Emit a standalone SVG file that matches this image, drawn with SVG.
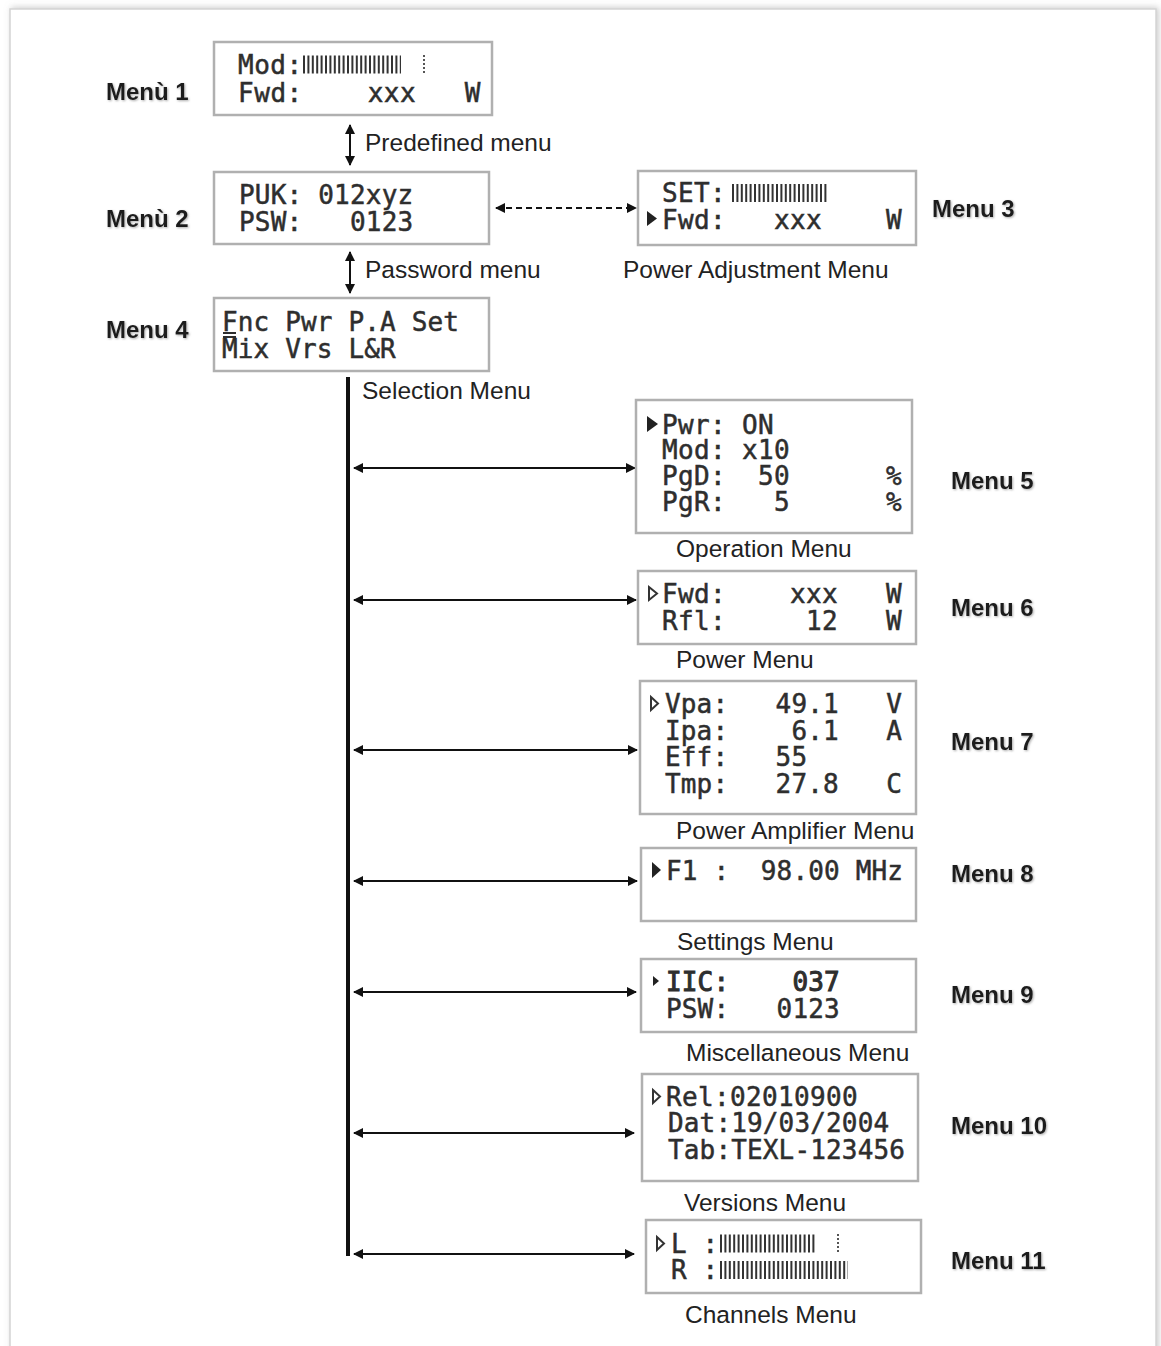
<svg xmlns="http://www.w3.org/2000/svg" width="1161" height="1346" viewBox="0 0 1161 1346">
<style>
.lcd{font-family:"DejaVu Sans Mono",monospace;font-size:26px;fill:#2e2e2e;stroke:#2e2e2e;stroke-width:0.5px;white-space:pre}
.cap{font-family:"Liberation Sans",Arial,sans-serif;font-size:24.5px;fill:#222}
.lbl{font-family:"Liberation Sans",Arial,sans-serif;font-size:24px;font-weight:bold;fill:#1a1a1a}
.box{fill:#fff;stroke:#b0b0b0;stroke-width:2.5}
.bar{stroke:#333;stroke-dasharray:2 2.4}
.dot{stroke:#555;stroke-width:2;stroke-dasharray:2 2}
.cur{fill:#222}
.curo{fill:none;stroke:#333;stroke-width:2;stroke-linejoin:miter}
.conn{stroke:#111;stroke-width:2;fill:none}
</style>
<defs>
<marker id="ah" viewBox="0 0 10 10" refX="9" refY="5" markerWidth="10" markerHeight="10" markerUnits="userSpaceOnUse" orient="auto-start-reverse">
<path d="M0,0 L10,5 L0,10 z" fill="#111"/>
</marker>
<filter id="sh" x="-10%" y="-10%" width="130%" height="140%">
<feDropShadow dx="1" dy="1" stdDeviation="1.2" flood-color="#777" flood-opacity="0.6"/>
</filter>
<filter id="fs" x="-2%" y="-2%" width="104%" height="104%">
<feDropShadow dx="2" dy="-1" stdDeviation="3" flood-color="#999" flood-opacity="0.5"/>
</filter>
</defs>
<rect width="1161" height="1346" fill="#fff"/>
<rect x="10" y="9" width="1146" height="1345" fill="#fff" stroke="#d4d4d4" stroke-width="1.5" filter="url(#fs)"/>

<g id="connectors">
<line class="conn" x1="350" y1="125" x2="350" y2="165" marker-start="url(#ah)" marker-end="url(#ah)"/>
<line class="conn" x1="350" y1="252" x2="350" y2="293" marker-start="url(#ah)" marker-end="url(#ah)"/>
<line class="conn" x1="496" y1="208" x2="636" y2="208" stroke-dasharray="6 4" marker-start="url(#ah)" marker-end="url(#ah)"/>
<line x1="348" y1="377" x2="348" y2="1256" stroke="#111" stroke-width="4"/>
<line class="conn" x1="354" y1="468" x2="635" y2="468" marker-start="url(#ah)" marker-end="url(#ah)"/>
<line class="conn" x1="354" y1="600" x2="636" y2="600" marker-start="url(#ah)" marker-end="url(#ah)"/>
<line class="conn" x1="354" y1="750" x2="637" y2="750" marker-start="url(#ah)" marker-end="url(#ah)"/>
<line class="conn" x1="354" y1="881" x2="637" y2="881" marker-start="url(#ah)" marker-end="url(#ah)"/>
<line class="conn" x1="354" y1="992" x2="636" y2="992" marker-start="url(#ah)" marker-end="url(#ah)"/>
<line class="conn" x1="354" y1="1133" x2="634" y2="1133" marker-start="url(#ah)" marker-end="url(#ah)"/>
<line class="conn" x1="354" y1="1254" x2="634" y2="1254" marker-start="url(#ah)" marker-end="url(#ah)"/>
<text class="cap" x="365" y="151">Predefined menu</text>
<text class="cap" x="365" y="278">Password menu</text>
<text class="cap" x="362" y="399">Selection Menu</text>
</g>

<g id="menu1">
<rect class="box" x="214" y="42" width="278" height="73"/>
<text class="lcd" x="238" y="74" style="letter-spacing:0.5px">Mod:</text>
<line class="bar" x1="303" y1="64.5" x2="401" y2="64.5" stroke-width="18"/>
<line class="dot" x1="424" y1="55" x2="424" y2="74"/>
<text class="lcd" x="238" y="102" xml:space="preserve" style="letter-spacing:0.55px">Fwd:    xxx   W</text>
<text class="lbl" x="106" y="100" filter="url(#sh)">Menù 1</text>
</g>

<g id="menu2">
<rect class="box" x="214" y="172" width="275" height="72"/>
<text class="lcd" x="239" y="204" xml:space="preserve" style="letter-spacing:0.2px">PUK: 012xyz</text>
<text class="lcd" x="239" y="231" xml:space="preserve" style="letter-spacing:0.2px">PSW:   0123</text>
<text class="lbl" x="106" y="227" filter="url(#sh)">Menù 2</text>
</g>

<g id="menu3">
<rect class="box" x="638" y="171" width="278" height="74"/>
<text class="lcd" x="662" y="202" style="letter-spacing:0.35px">SET:</text>
<line class="bar" x1="732" y1="193" x2="827" y2="193" stroke-width="18"/>
<polygon class="cur" points="647,211 657,218.5 647,226"/>
<text class="lcd" x="662" y="229" xml:space="preserve" style="letter-spacing:0.35px">Fwd:   xxx    W</text>
<text class="lbl" x="932" y="217" filter="url(#sh)">Menu 3</text>
<text class="cap" x="623" y="278">Power Adjustment Menu</text>
</g>

<g id="menu4">
<rect class="box" x="214" y="298" width="275" height="73"/>
<text class="lcd" x="222" y="331" xml:space="preserve" style="letter-spacing:0.15px">Fnc Pwr P.A Set</text>
<text class="lcd" x="222" y="358" xml:space="preserve" style="letter-spacing:0.15px">Mix Vrs L&amp;R</text>
<line x1="223" y1="333" x2="236" y2="333" stroke="#2e2e2e" stroke-width="2"/>
<line x1="223" y1="337" x2="236" y2="337" stroke="#2e2e2e" stroke-width="2"/>
<text class="lbl" x="106" y="338" filter="url(#sh)">Menu 4</text>
</g>

<g id="menu5">
<rect class="box" x="636" y="400" width="276" height="133"/>
<polygon class="cur" points="647,416 658,424 647,432"/>
<text class="lcd" x="662" y="434" xml:space="preserve" style="letter-spacing:0.35px">Pwr: ON</text>
<text class="lcd" x="662" y="459" xml:space="preserve" style="letter-spacing:0.35px">Mod: x10</text>
<text class="lcd" x="662" y="485" xml:space="preserve" style="letter-spacing:0.35px">PgD:  50      %</text>
<text class="lcd" x="662" y="511" xml:space="preserve" style="letter-spacing:0.35px">PgR:   5      %</text>
<text class="lbl" x="951" y="489" filter="url(#sh)">Menu 5</text>
<text class="cap" x="676" y="557">Operation Menu</text>
</g>

<g id="menu6">
<rect class="box" x="638" y="571" width="278" height="73"/>
<polygon class="curo" points="649,587 657,593.5 649,600"/>
<text class="lcd" x="662" y="603" xml:space="preserve" style="letter-spacing:0.35px">Fwd:    xxx   W</text>
<text class="lcd" x="662" y="630" xml:space="preserve" style="letter-spacing:0.35px">Rfl:     12   W</text>
<text class="lbl" x="951" y="616" filter="url(#sh)">Menu 6</text>
<text class="cap" x="676" y="668">Power Menu</text>
</g>

<g id="menu7">
<rect class="box" x="640" y="681" width="276" height="133"/>
<polygon class="curo" points="651,697 658,703.5 651,710"/>
<text class="lcd" x="665" y="713" xml:space="preserve" style="letter-spacing:0.15px">Vpa:   49.1   V</text>
<text class="lcd" x="665" y="740" xml:space="preserve" style="letter-spacing:0.15px">Ipa:    6.1   A</text>
<text class="lcd" x="665" y="766" xml:space="preserve" style="letter-spacing:0.15px">Eff:   55</text>
<text class="lcd" x="665" y="793" xml:space="preserve" style="letter-spacing:0.15px">Tmp:   27.8   C</text>
<text class="lbl" x="951" y="750" filter="url(#sh)">Menu 7</text>
<text class="cap" x="676" y="839">Power Amplifier Menu</text>
</g>

<g id="menu8">
<rect class="box" x="641" y="848" width="275" height="73"/>
<polygon class="cur" points="652,862 661,870 652,878"/>
<text class="lcd" x="666" y="880" xml:space="preserve" style="letter-spacing:0.15px">F1 :  98.00 MHz</text>
<text class="lbl" x="951" y="882" filter="url(#sh)">Menu 8</text>
<text class="cap" x="677" y="950">Settings Menu</text>
</g>

<g id="menu9">
<rect class="box" x="641" y="959" width="275" height="73"/>
<polygon class="cur" points="653,976 659,981 653,986"/>
<text class="lcd" x="666" y="991" xml:space="preserve" style="letter-spacing:0.15px;stroke-width:1px">IIC:    037</text>
<text class="lcd" x="666" y="1018" xml:space="preserve" style="letter-spacing:0.15px">PSW:   0123</text>
<text class="lbl" x="951" y="1003" filter="url(#sh)">Menu 9</text>
<text class="cap" x="686" y="1061">Miscellaneous Menu</text>
</g>

<g id="menu10">
<rect class="box" x="642" y="1074" width="276" height="107"/>
<polygon class="curo" points="653,1090 660,1096.5 653,1103"/>
<text class="lcd" x="666" y="1106" style="letter-spacing:0.35px">Rel:02010900</text>
<text class="lcd" x="668" y="1132" style="letter-spacing:0.15px">Dat:19/03/2004</text>
<text class="lcd" x="668" y="1159" style="letter-spacing:0.15px">Tab:TEXL-123456</text>
<text class="lbl" x="951" y="1134" filter="url(#sh)">Menu 10</text>
<text class="cap" x="684" y="1211">Versions Menu</text>
</g>

<g id="menu11">
<rect class="box" x="646" y="1220" width="275" height="73"/>
<polygon class="curo" points="657,1237 664,1243.5 657,1250"/>
<text class="lcd" x="671" y="1253" xml:space="preserve" style="letter-spacing:0.15px">L :</text>
<line class="bar" x1="720" y1="1243.5" x2="815" y2="1243.5" stroke-width="18"/>
<line class="dot" x1="838" y1="1234" x2="838" y2="1253"/>
<text class="lcd" x="671" y="1279" xml:space="preserve" style="letter-spacing:0.15px">R :</text>
<line class="bar" x1="720" y1="1270" x2="848" y2="1270" stroke-width="18"/>
<text class="lbl" x="951" y="1269" filter="url(#sh)">Menu 11</text>
<text class="cap" x="685" y="1323">Channels Menu</text>
</g>
</svg>
